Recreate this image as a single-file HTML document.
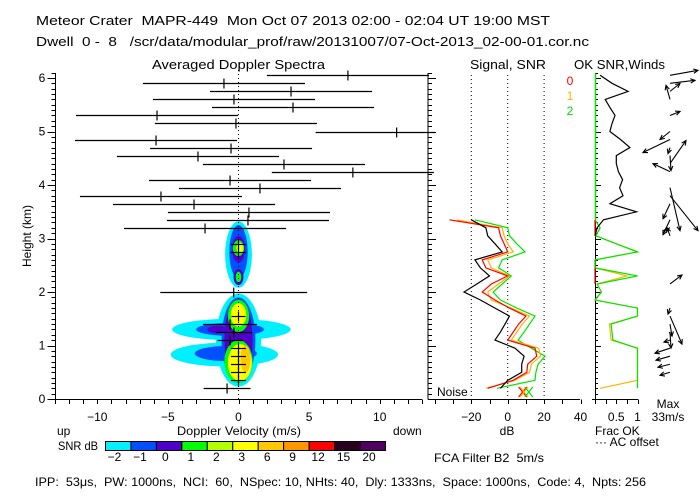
<!DOCTYPE html>
<html><head><meta charset="utf-8"><style>
html,body{margin:0;padding:0;background:#fff;}
svg{display:block;font-family:"Liberation Sans","DejaVu Sans",sans-serif;}
.pre{white-space:pre;}
</style></head><body>
<svg id="chart" width="700" height="500" viewBox="0 0 700 500">
<rect x="0" y="0" width="700" height="500" fill="#fff"/>
<text class="pre" x="36" y="25" font-size="13" textLength="514" lengthAdjust="spacingAndGlyphs">Meteor Crater  MAPR-449  Mon Oct 07 2013 02:00 - 02:04 UT 19:00 MST</text>
<text class="pre" x="36" y="46" font-size="13" textLength="553" lengthAdjust="spacingAndGlyphs">Dwell  0 -  8   /scr/data/modular_prof/raw/20131007/07-Oct-2013_02-00-01.cor.nc</text>
<text x="152" y="69" font-size="13" textLength="173" lengthAdjust="spacingAndGlyphs">Averaged Doppler Spectra</text>
<text x="470" y="69" font-size="13" textLength="76" lengthAdjust="spacingAndGlyphs">Signal, SNR</text>
<text x="574" y="69" font-size="13" textLength="91" lengthAdjust="spacingAndGlyphs">OK SNR,Winds</text>
<text x="570" y="85" font-size="12" fill="#ff0000" text-anchor="middle">0</text>
<text x="570" y="100" font-size="12" fill="#ffb400" text-anchor="middle">1</text>
<text x="570" y="115" font-size="12" fill="#00e000" text-anchor="middle">2</text>
<text transform="translate(31,236) rotate(-90)" font-size="12" text-anchor="middle">Height (km)</text>
<text x="239" y="435" font-size="12" text-anchor="middle" textLength="124" lengthAdjust="spacingAndGlyphs">Doppler Velocity (m/s)</text>
<text x="57" y="435" font-size="12">up</text>
<text x="393" y="435" font-size="12">down</text>
<text x="507" y="435" font-size="12" text-anchor="middle">dB</text>
<text x="595" y="435" font-size="12">Frac OK</text>
<text x="595" y="446" font-size="12">··· AC offset</text>
<text x="668" y="408" font-size="12" text-anchor="middle">Max</text>
<text x="668" y="421" font-size="12" text-anchor="middle">33m/s</text>
<text x="58" y="450" font-size="12" textLength="40" lengthAdjust="spacingAndGlyphs">SNR dB</text>
<text class="pre" x="434" y="462" font-size="12" textLength="110" lengthAdjust="spacingAndGlyphs">FCA Filter B2  5m/s</text>
<text class="pre" x="35" y="486" font-size="12" textLength="611" lengthAdjust="spacingAndGlyphs">IPP:  53μs,  PW: 1000ns,  NCI:  60,  NSpec: 10, NHts: 40,  Dly: 1333ns,  Space: 1000ns,  Code: 4,  Npts: 256</text>
<text x="437" y="396" font-size="12">Noise</text>
<g id="g"></g>
</svg>
<script>
// ---------- data ----------
const velTicks = [-10, -5, 0, 5, 10];
const hTicks = [0, 1, 2, 3, 4, 5, 6];
const dbTicks = [-20, 0, 20, 40];
const fracTicks = [0.5, 1];
const cbLabels = ["-2","-1","0","1","2","3","6","9","12","15","20"];
const cbColors = ["#00f0ff","#0050ff","#5000c8","#00ff00","#b4ff00","#ffff00","#ffc800","#ff9600","#ff0000","#2a0020","#500060"];
// spectra per gate k=0..39 (center velocity m/s, half width m/s)
const specCenter = [-0.81,0,0,0,0,0,-0.6,-0.32,-0.6,0,null,null,-0.34,null,null,null,null,0,0,null,
 -2.37,0.67,0.74,-3.15,-5.49,1.52,-0.6,8.1,3.22,-2.87,-0.53,-5.84,11.2,-0.18,-5.77,3.86,-0.32,3.72,-1.03,7.75];
const specHalf = [1.66,0.53,0.53,0.53,0.53,0.53,0.88,1.27,1.91,0.5,null,null,5.2,null,null,null,null,0.55,0.55,null,
 5.74,5.74,5.74,5.74,5.74,5.74,5.74,5.74,5.74,5.74,5.74,5.74,5.74,5.74,5.74,5.74,5.74,5.74,5.74,5.74];
// SNR blobs (velocity, height, velocity radius, height radius, color level)
const blobV  = [0,0,0,0,0,0,0.1, -0.5,-1,0, -0.6,-0.9,0, 0,-1.5, 0,0, 0,0.1, 0.5];
const blobH  = [2.7,2.75,2.8,2.28,2.82,2.28,2.82, 1.3,0.83,1.1, 1.3,0.85,1.1, 1.1,1.3, 1.55,0.7, 1.57,0.68, 0.75];
const blobVR = [0.95,0.65,0.45,0.35,0.4,0.2,0.25, 4.2,3.8,1.6, 2.4,2.2,1.2, 1.0,0.7, 0.75,1.0, 0.55,0.85, 0.35];
const blobHR = [0.62,0.5,0.25,0.15,0.15,0.1,0.1, 0.2,0.22,0.87, 0.12,0.14,0.8, 0.75,0.07, 0.3,0.4, 0.22,0.35, 0.25];
const blobLvl= [0,1,2,2,3,3,5, 0,0,0, 1,1,1, 2,2, 3,3, 5,5, 6];
// Signal/SNR per gate k=0..21 (dB)
const snrBlack  = [-4,0,7.7,7.7,9,4,-7,-4,-1.5,1,-7,-15,-24,-17,-10,-15,-18,-3,-7,-11,-12,-20];
const snrRed    = [-11,3,10.5,11,16,15,0,3,6,10,1,-7,-14,-9,0,-12,-14,0,-2,-4,-5,-32];
const snrOrange = [-12,4,12,13,18,17,2,5,8,12,2,-9,-11,-5,1,-9,-11,3,0,-2,-3,-28];
const snrGreen  = [-6,15,15.5,16.7,20.5,13,5.7,9,12,15,5,-4,-8,-3,2,-5,-3,9.5,5,1,0,-18];
const noiseDb = [8.2, 9, 11.6];
// fraction OK per gate
const fracBlack = [null,null,null,null,null,null,null,null,null,null,null,null,null,null,null,null,null,null,null,0,
 0.05,0.2,0.98,0.35,0.66,0.58,0.65,0.55,0.5,0.5,0.82,0.6,0.35,0.4,0.47,0.35,0.24,0.78,0.4,0.12];
const fracGreen = [1,1,1,1,1,1,0.42,0.4,0.38,1,1,0,0.15,0.05,1,0,0,1,0.5,0.02,0.12,0];
const fracOrange= [0.12,1,1,1,1,1,0.38,0.36,0.34,1,1,0,0.15,0.05,0.75,0,0,1,0.5,0.02,0.12,0];
const fracRed   = [null,null,null,null,null,null,null,null,null,null,null,null,null,0,0,0,null,null,null,0,0,0];
// winds per gate (u, v m/s)
const windU = [null,null,-10,-12,-14,-15,-6,1,2,12,-2,null,null,12,null,null,null,null,null,-3,
 -6,-7,null,-7,28,10,null,-17,16,1,-2,-27,-10,null,10,null,-4,10,25,28];
const windV = [null,null,-3,-3,-4,-5,-2,-16,-12,-28,-6,null,null,9,null,null,null,null,null,8,
 -3,-15,null,-15,-35,-43,null,8,23,-15,-6,-13,-8,null,4,null,14,8,3,5];

// ---------- axes ----------
const xV = v => 238.5 + v * 14.12;
const yH = h => 399 - h * 53.5;
const xD = d => 507.7 + d * 1.82;
const xF = f => 595 + f * 42.5;
const gateH = k => 0.2 + 0.15 * k;

const NS = "http://www.w3.org/2000/svg";
const root = document.getElementById("g");
function mk(tag, attrs, parent) {
  const e = document.createElementNS(NS, tag);
  for (const k in attrs) e.setAttribute(k, attrs[k]);
  (parent || root).appendChild(e);
  return e;
}
function line(x1, y1, x2, y2, stroke, extra) {
  const a = {x1, y1, x2, y2, stroke: stroke || "#000", "stroke-width": 1};
  if (extra) Object.assign(a, extra);
  return mk("line", a);
}

const defs = mk("defs", {});
const cp = mk("clipPath", {id: "cpMain"}, defs);
mk("rect", {x: 55, y: 60, width: 380, height: 340}, cp);

const gBlob = mk("g", {"clip-path": "url(#cpMain)"});


for (let i = 0; i < blobV.length; i++) {
  const e = mk("ellipse", {cx: xV(blobV[i]), cy: yH(blobH[i]), rx: blobVR[i] * 14.12, ry: blobHR[i] * 53.5, fill: cbColors[blobLvl[i]]}, gBlob);
  
  
}

const zl = line(xV(0), 70, xV(0), 399, "#000", {"stroke-dasharray": "1,3"});



const gSpec = mk("g", {"clip-path": "url(#cpMain)"});


for (let k = 0; k < specCenter.length; k++) {
  if (specCenter[k] === null) continue;
  const y = Math.round(yH(gateH(k))) + 0.5;
  const c = specCenter[k], w = specHalf[k];
  const l = mk("line", {x1: xV(c - w), y1: y, x2: xV(c + w), y2: y, stroke: "#000", "stroke-width": 1.2}, gSpec);
  
  
  const t = mk("line", {x1: xV(c), y1: y - 5, x2: xV(c), y2: y + 5, stroke: "#000", "stroke-width": 1.2}, gSpec);
  
  
}

const ya = line(55.5, 73, 55.5, 399.5);


const xa = line(55, 399.5, 422, 399.5);


for (let h = 0; h <= 61; h++) {
  const y = Math.round(yH(h / 10)) + 0.5;
  const L = h % 10 === 0 ? 8 : 4;
  line(55.5 - L, y, 55.5, y);
  line(428, y, 428 + L, y);
  line(595, y, 595 + (h % 10 === 0 ? 6 : 3), y);
}
for (const h of hTicks) {
  const t = mk("text", {x: 42, y: yH(h) + 4, "font-size": 12, "text-anchor": "middle"});
  t.textContent = h;
  
  
}
for (let v = -13; v <= 13; v++) {
  const x = Math.round(xV(v)) + 0.5;
  line(x, 399.5, x, 404);
}
for (const v of velTicks) {
  const t = mk("text", {x: xV(v), y: 421, "font-size": 12, "text-anchor": "middle"});
  t.textContent = v < 0 ? "\u2212" + (-v) : v;
  
  
}

const sa = line(428, 73, 428, 399.5);


const sb = line(428, 399.5, 580, 399.5);


for (let d = -40; d <= 40; d += 10) {
  const x = Math.round(xD(d)) + 0.5;
  line(x, 399.5, x, 404);
}
for (const d of [-20, 0, 20]) {
  const g = line(xD(d), 75, xD(d), 399, "#000", {"stroke-dasharray": "1,3"});
  
  
}
for (const d of dbTicks) {
  const t = mk("text", {x: xD(d), y: 421, "font-size": 12, "text-anchor": "middle"});
  t.textContent = d < 0 ? "\u2212" + (-d) : d;
  
  
}
function polyFrom(arr, xf, color, name) {
  let pts = [];
  const flush = () => {
    if (pts.length > 1) {
      const p = mk("polyline", {points: pts.join(" "), fill: "none", stroke: color, "stroke-width": 1.2});
      
      
    }
    pts = [];
  };
  for (let k = 0; k < arr.length; k++) {
    if (arr[k] === null) { flush(); continue; }
    pts.push(xf(arr[k]).toFixed(1) + "," + yH(gateH(k)).toFixed(1));
  }
  flush();
}
polyFrom(snrGreen, xD, "#00e600", "snr-series-2");
polyFrom(snrOrange, xD, "#ffb400", "snr-series-1");
polyFrom(snrRed, xD, "#ff0000", "snr-series-0");
polyFrom(snrBlack, xD, "#000", "signal-series");
const noiseCol = ["#ff0000", "#ffb400", "#00e600"];
for (let i = 0; i < noiseDb.length; i++) {
  const x = xD(noiseDb[i]), y = 392;
  const g = mk("g", {stroke: noiseCol[i], "stroke-width": 1.2});
  
  
  mk("line", {x1: x - 4, y1: y - 5, x2: x + 4, y2: y + 5}, g);
  mk("line", {x1: x - 4, y1: y + 5, x2: x + 4, y2: y - 5}, g);
}

const fa = line(595.5, 73, 595.5, 399.5);


const fb = line(592, 399.5, 638, 399.5);


for (let f = 0; f <= 1.001; f += 0.25) {
  const x = Math.round(xF(f)) + 0.5;
  line(x, 399.5, x, 404);
}
for (const f of fracTicks) {
  const t = mk("text", {x: xF(f), y: 421, "font-size": 12, "text-anchor": "middle"});
  t.textContent = f;
  
  
}
const gv = line(595.5, yH(gateH(21)), 595.5, yH(gateH(39)) - 2, "#00e600", {"stroke-width": 1.5});


polyFrom(fracOrange, xF, "#ffb400", "frac-ok-series-1");
polyFrom(fracGreen, xF, "#00e600", "frac-ok-series-2");
polyFrom(fracRed, xF, "#ff0000", "frac-ok-series-0");
polyFrom(fracBlack, xF, "#000", "frac-ok-total");

for (let k = 0; k < windU.length; k++) {
  if (windU[k] === null) continue;
  const x0 = 670, y0 = yH(gateH(k));
  const x1 = x0 + windU[k], y1 = y0 - windV[k];
  const g = mk("g", {stroke: "#000", "stroke-width": 1.1, fill: "none"});
  
  
  mk("line", {x1: x0, y1: y0, x2: x1, y2: y1}, g);
  const a = Math.atan2(y1 - y0, x1 - x0), L = 5;
  mk("polyline", {points: `${x1 - L * Math.cos(a - 0.45)},${y1 - L * Math.sin(a - 0.45)} ${x1},${y1} ${x1 - L * Math.cos(a + 0.45)},${y1 - L * Math.sin(a + 0.45)}`}, g);
}

for (let i = 0; i < cbColors.length; i++) {
  const x = 105.5 + i * 25.45;
  const r = mk("rect", {x, y: 441.5, width: 25.45, height: 9, fill: cbColors[i], stroke: "#000", "stroke-width": 1});
  
  
  const t = mk("text", {x: x + 9, y: 461, "font-size": 12, "text-anchor": "middle"});
  t.textContent = cbLabels[i].replace("-", "\u2212");
  
  
}
</script>
</body></html>
